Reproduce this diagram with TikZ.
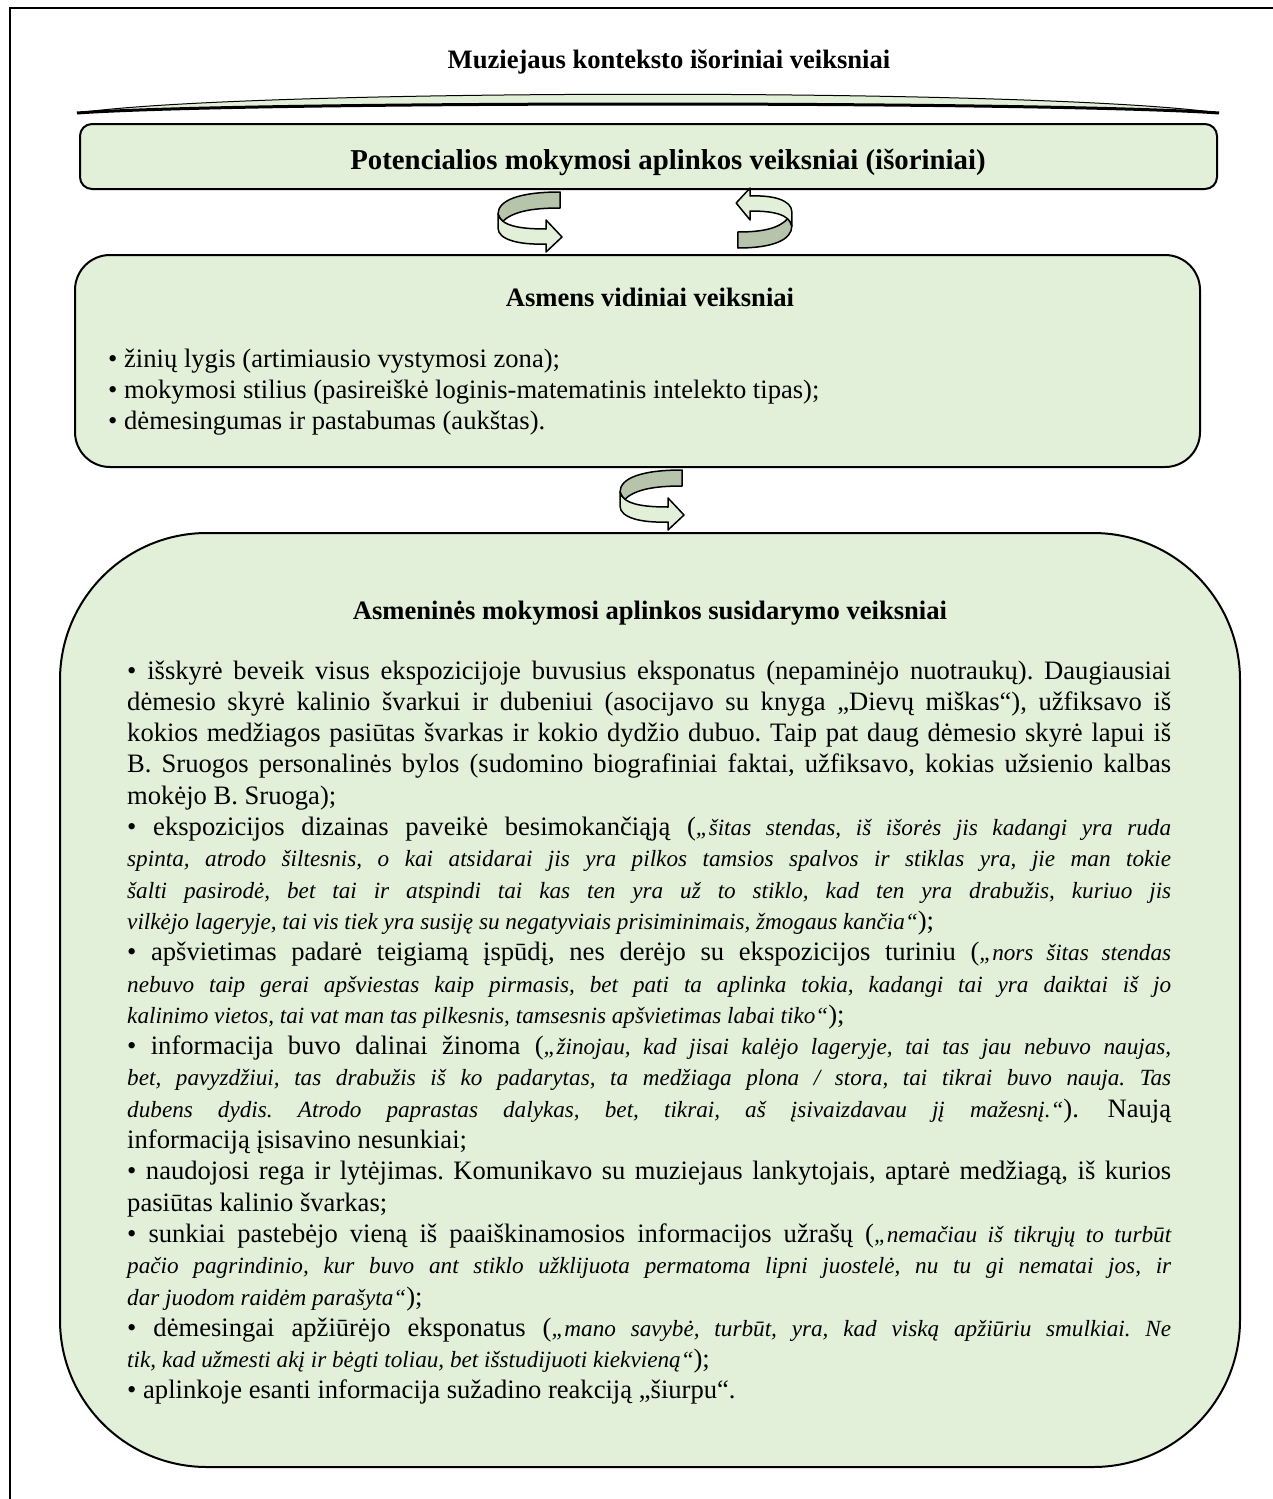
\documentclass[tikz,border=0pt]{standalone}
\usepackage{fontspec}
\setmainfont{Liberation Serif}
\frenchspacing
\newlength{\LW}\setlength{\LW}{1044pt}
\newcommand{\jl}[1]{\makebox[\LW][s]{#1}}
\newcommand{\qi}[1]{{\fontsize{23.2}{31.3}\selectfont\itshape #1}}
\definecolor{boxfill}{HTML}{E2EFD9}
\definecolor{arrdark}{HTML}{B5C4AB}
\tikzset{
  boxst/.style={draw=black, fill=boxfill, line width=2pt, inner sep=0pt},
  txt/.style={inner sep=0pt, font=\fontsize{26.6}{31.3}\selectfont},
  ttl/.style={inner sep=0pt, font=\fontsize{26.6}{31.3}\selectfont\bfseries, anchor=base},
  curvarr/.pic={
    \path[fill=arrdark, draw=black, line width=1.5pt, line join=round]
      (30,-30) .. controls (-10,-30) and (-32,-22) .. (-32,-8)
      -- (-28,0) .. controls (-18,-10) and (0,-14) .. (30,-14) -- cycle;
    \path[fill=boxfill, draw=black, line width=1.5pt, line join=round]
      (-32,-8) .. controls (-29,4) and (-10,7) .. (16,7)
      -- (16,-2) -- (32,15) -- (16,30) -- (16,22)
      .. controls (-10,23) and (-32,18) .. (-32,6) -- cycle;
  }
}
\begin{document}
\begin{tikzpicture}[x=1pt,y=-1pt]
\useasboundingbox (0,0) rectangle (1272,1499);
% outer frame
\draw[line width=2pt] (10,1510) -- (10,8) -- (1280,8);
% title
\node[ttl] (t0) at (669,68) {Muziejaus konteksto išoriniai veiksniai};
% banner
\path[fill=boxfill, draw=black, line width=1pt]
  (77,113) .. controls (250,88) and (1046,88) .. (1219,113)
  .. controls (1046,101) and (250,101) .. cycle;
\draw[line width=3pt] (1219,113) .. controls (1046,101) and (250,101) .. (77,113);
% boxes
\node[boxst, rounded corners=12pt, minimum width=1137pt, minimum height=65pt] (b1) at (648.5,156.5) {};
\node[boxst, rounded corners=35pt, minimum width=1125pt, minimum height=212pt] (b2) at (637.5,361) {};
\node[boxst, rounded corners=147pt, minimum width=1180pt, minimum height=934pt] (b3) at (650,1000) {};
% box titles
\node[ttl, font=\fontsize{28.8}{33}\selectfont\bfseries] (t1) at (668,169) {Potencialios mokymosi aplinkos veiksniai (išoriniai)};
\node[ttl] (t2) at (650,306) {Asmens vidiniai veiksniai};
\node[ttl] (t3) at (650,619) {Asmeninės mokymosi aplinkos susidarymo veiksniai};
% arrows
\pic at (530,222) {curvarr};
\pic[rotate=180, xscale=0.87] at (764,218) {curvarr};
\pic at (652,500) {curvarr};
% box 2 text
\node[txt, anchor=base west] (l2) at (108,367) {\parbox[t]{1000pt}{\fontsize{26.6}{31.3}\selectfont
• žinių lygis (artimiausio vystymosi zona);\\
• mokymosi stilius (pasireiškė loginis-matematinis intelekto tipas);\\
• dėmesingumas ir pastabumas (aukštas).}};
% box 3 text
\node[txt, anchor=base west] (l3) at (127,679) {\parbox[t]{\LW}{\fontsize{26.6}{31.3}\selectfont
\jl{• išskyrė beveik visus ekspozicijoje buvusius eksponatus (nepaminėjo nuotraukų). Daugiausiai}\\
\jl{dėmesio skyrė kalinio švarkui ir dubeniui (asocijavo su knyga „Dievų miškas“), užfiksavo iš}\\
\jl{kokios medžiagos pasiūtas švarkas ir kokio dydžio dubuo. Taip pat daug dėmesio skyrė lapui iš}\\
\jl{B. Sruogos personalinės bylos (sudomino biografiniai faktai, užfiksavo, kokias užsienio kalbas}\\
mokėjo B. Sruoga);\\
\jl{• ekspozicijos dizainas paveikė besimokančiąją (\qi{„šitas stendas, iš išorės jis kadangi yra ruda}}\\
\jl{\qi{spinta, atrodo šiltesnis, o kai atsidarai jis yra pilkos tamsios spalvos ir stiklas yra, jie man tokie}}\\
\jl{\qi{šalti pasirodė, bet tai ir atspindi tai kas ten yra už to stiklo, kad ten yra drabužis, kuriuo jis}}\\
\qi{vilkėjo lageryje, tai vis tiek yra susiję su negatyviais prisiminimais, žmogaus kančia“});\\
\jl{• apšvietimas padarė teigiamą įspūdį, nes derėjo su ekspozicijos turiniu (\qi{„nors šitas stendas}}\\
\jl{\qi{nebuvo taip gerai apšviestas kaip pirmasis, bet pati ta aplinka tokia, kadangi tai yra daiktai iš jo}}\\
\qi{kalinimo vietos, tai vat man tas pilkesnis, tamsesnis apšvietimas labai tiko“});\\
\jl{• informacija buvo dalinai žinoma (\qi{„žinojau, kad jisai kalėjo lageryje, tai tas jau nebuvo naujas,}}\\
\jl{\qi{bet, pavyzdžiui, tas drabužis iš ko padarytas, ta medžiaga plona / stora, tai tikrai buvo nauja. Tas}}\\
\jl{\qi{dubens dydis. Atrodo paprastas dalykas, bet, tikrai, aš įsivaizdavau jį mažesnį.“}). Naują}\\
informaciją įsisavino nesunkiai;\\
\jl{• naudojosi rega ir lytėjimas. Komunikavo su muziejaus lankytojais, aptarė medžiagą, iš kurios}\\
pasiūtas kalinio švarkas;\\
\jl{• sunkiai pastebėjo vieną iš paaiškinamosios informacijos užrašų (\qi{„nemačiau iš tikrųjų to turbūt}}\\
\jl{\qi{pačio pagrindinio, kur buvo ant stiklo užklijuota permatoma lipni juostelė, nu tu gi nematai jos, ir}}\\
\qi{dar juodom raidėm parašyta“});\\
\jl{• dėmesingai apžiūrėjo eksponatus (\qi{„mano savybė, turbūt, yra, kad viską apžiūriu smulkiai. Ne}}\\
\qi{tik, kad užmesti akį ir bėgti toliau, bet išstudijuoti kiekvieną“});\\
• aplinkoje esanti informacija sužadino reakciją „šiurpu“.}};
\end{tikzpicture}
\end{document}
